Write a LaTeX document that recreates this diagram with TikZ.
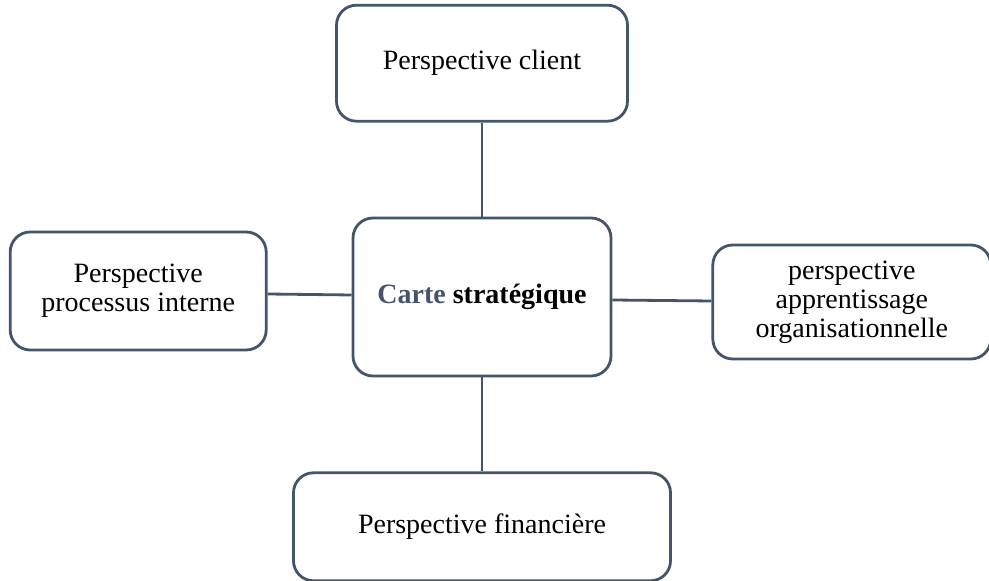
\documentclass[tikz,border=0pt]{standalone}
\usepackage{fontspec}
\setmainfont{Liberation Serif}
\usepackage{tikz}
\usetikzlibrary{positioning}
\definecolor{slate}{HTML}{44546A}
\tikzset{
box/.style={
  draw=slate,
  line width=1.4pt,
  rounded corners=10pt,
  rectangle,
  align=center,
  font=\fontsize{14pt}{14.5pt}\selectfont
  },
line/.style={draw=slate, line width=1.4pt}
}
\begin{document}
\begin{tikzpicture}
\useasboundingbox (0,0) rectangle (494.5pt,-290.5pt);

\node[box, minimum width=129pt, minimum height=79pt]	(carte)		at (241pt,-148.5pt)	{\textbf{\textcolor{slate}{Carte} stratégique}};
\node[box, minimum width=145.5pt, minimum height=58pt]	(client)		[above=47pt of carte]					{Perspective client};
\node[box, minimum width=128pt, minimum height=59pt]	(processus)	[left=42pt of carte, yshift=3pt]		{Perspective\\processus interne};
\node[box, minimum width=139pt, minimum height=57pt]	(apprentissage)	[right=49.5pt of carte, yshift=-2.5pt]	{perspective\\apprentissage\\organisationnelle};
\node[box, minimum width=188.5pt, minimum height=54pt]	(financiere)	[below=47pt of carte]					{Perspective financière};

\draw[line]	(client.south)		--	(carte.north);
\draw[line]	([yshift=-1.5pt]processus.east)	--	([yshift=1pt]carte.west);
\draw[line]	([yshift=-1.5pt]carte.east)		--	([yshift=0.5pt]apprentissage.west);
\draw[line]	(carte.south)		--	(financiere.north);
\end{tikzpicture}
\end{document}
